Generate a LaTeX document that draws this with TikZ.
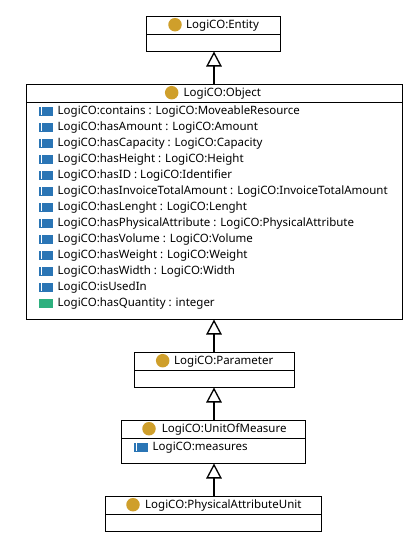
\documentclass[tikz,border=0pt]{standalone}
\usepackage{fontspec}
\setmainfont{Noto Sans}
\usetikzlibrary{arrows.meta}
\definecolor{gold}{HTML}{CF9F2B}
\definecolor{objblue}{HTML}{2A75B5}
\definecolor{datagreen}{HTML}{2DB07E}
\tikzset{
  x=1pt,y=-1pt,
  classbox/.style={draw=black,line width=1pt,fill=white,inner sep=0pt,outer sep=0pt},
  sepline/.style={draw=black,line width=1pt},
  classicon/.style={circle,fill=gold,minimum size=13.5pt,inner sep=0pt,outer sep=0pt},
  objicon/.style={rectangle,fill=objblue,minimum width=14pt,minimum height=9pt,inner sep=0pt},
  dataicon/.style={rectangle,fill=datagreen,minimum width=14pt,minimum height=9pt,inner sep=0pt},
  txt/.style={anchor=west,inner sep=0pt,font=\fontsize{11.5pt}{13pt}\selectfont,text=black},
  inherit/.style={draw=black,line width=2pt,-{Triangle[open,length=15pt,width=15.5pt,fill=white,line width=1.3pt]}}
}
\newcommand{\classnode}[8]{% name, x1, y1, x2, y2, sep y, circle x, text x; text follows
  \node[classbox,minimum width=#4pt-#2pt,minimum height=#5pt-#3pt] (#1) at ({(#2+#4)/2},{(#3+#5)/2}) {};
  \draw[sepline] (#2,#6) -- (#4,#6);
  \node[classicon] (#1icon) at (#7,{#3+8.2}) {};
  \node[txt] (#1label) at (#8,{#3+9.3})}
\newcommand{\attr}[4]{% style, name, x, y
  \node[#1] (#2icon) at (#3,#4) {};
  \draw[white,line width=0.8pt] ({#3-4.5},{#4-4.4}) -- ({#3-4.5},{#4+4.4});
  \node[txt] (#2) at ({#3+11.5},{#4+0.2})}
\begin{document}
\begin{tikzpicture}
\useasboundingbox (0,0) rectangle (420,544);
\fill[white] (0,0) rectangle (420,544);
\coordinate (axis) at (214,0);
\classnode{entity}{146.5}{16.5}{280.5}{51.5}{34.5}{175}{186} {LogiCO:Entity};
\classnode{object}{26.5}{84.5}{402.5}{319.5}{102.5}{171.7}{183.5} {LogiCO:Object};
\classnode{parameter}{134.5}{352.5}{294.5}{387.5}{370.5}{162.7}{174} {LogiCO:Parameter};
\classnode{unit}{121.5}{420.5}{305.5}{463.5}{438.5}{149}{161.7} {LogiCO:UnitOfMeasure};
\classnode{phys}{105.5}{496.5}{321.5}{531.5}{514.5}{133}{145} {LogiCO:PhysicalAttributeUnit};
\attr{objicon}{a}{46}{111} {LogiCO:contains : LogiCO:MoveableResource};
\attr{objicon}{b}{46}{127} {LogiCO:hasAmount : LogiCO:Amount};
\attr{objicon}{c}{46}{143} {LogiCO:hasCapacity : LogiCO:Capacity};
\attr{objicon}{d}{46}{159} {LogiCO:hasHeight : LogiCO:Height};
\attr{objicon}{e}{46}{175} {LogiCO:hasID : LogiCO:Identifier};
\attr{objicon}{f}{46}{191} {LogiCO:hasInvoiceTotalAmount : LogiCO:InvoiceTotalAmount};
\attr{objicon}{g}{46}{207} {LogiCO:hasLenght : LogiCO:Lenght};
\attr{objicon}{h}{46}{223} {LogiCO:hasPhysicalAttribute : LogiCO:PhysicalAttribute};
\attr{objicon}{i}{46}{239} {LogiCO:hasVolume : LogiCO:Volume};
\attr{objicon}{j}{46}{255} {LogiCO:hasWeight : LogiCO:Weight};
\attr{objicon}{k}{46}{271} {LogiCO:hasWidth : LogiCO:Width};
\attr{objicon}{l}{46}{287} {LogiCO:isUsedIn};
\node[dataicon] (micon) at (46,303) {};
\node[txt] (m) at (57.5,303.2) {LogiCO:hasQuantity : integer};
\attr{objicon}{n}{141}{447} {LogiCO:measures};
\draw[inherit] (object.north -| axis) -- (entity.south -| axis);
\draw[inherit] (parameter.north -| axis) -- (object.south -| axis);
\draw[inherit] (unit.north -| axis) -- (parameter.south -| axis);
\draw[inherit] (phys.north -| axis) -- (unit.south -| axis);
\end{tikzpicture}
\end{document}
